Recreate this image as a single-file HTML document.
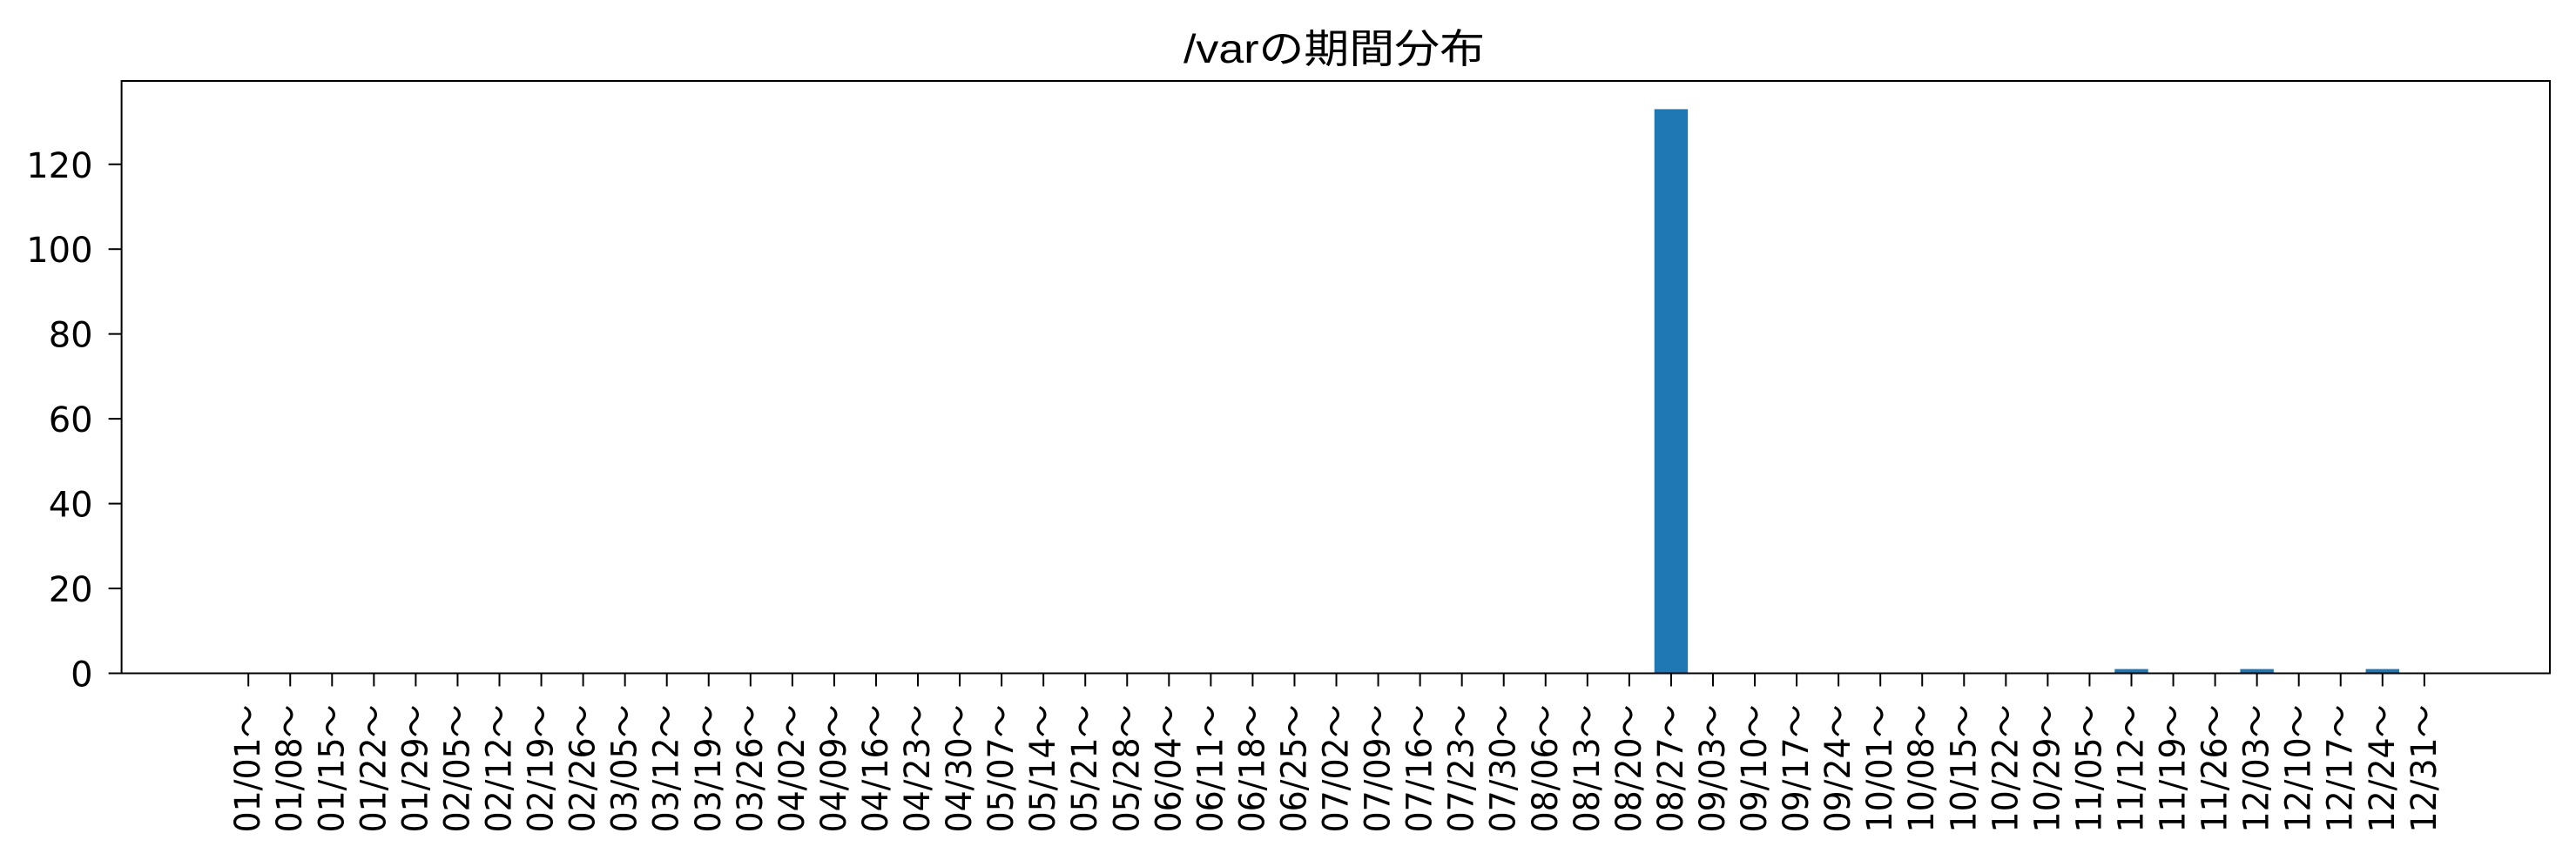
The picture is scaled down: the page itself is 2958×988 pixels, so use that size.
<!DOCTYPE html>
<html><head><meta charset="utf-8"><style>html,body{margin:0;padding:0;background:#fff;}svg{display:block}</style></head>
<body>
<svg id="chart" width="2958" height="988" xmlns="http://www.w3.org/2000/svg" font-family="'DejaVu Sans','Noto Sans CJK JP',sans-serif">
<rect x="0" y="0" width="2958" height="988" fill="#fff"/>
<text x="1532" y="72" font-size="46" text-anchor="middle" textLength="346" lengthAdjust="spacingAndGlyphs" font-family="'Liberation Sans','Noto Sans CJK JP',sans-serif">/varの期間分布</text>
<g id="plot"></g>
</svg>
<script>
const categories = ["01/01","01/08","01/15","01/22","01/29","02/05","02/12","02/19","02/26","03/05","03/12","03/19","03/26","04/02","04/09","04/16","04/23","04/30","05/07","05/14","05/21","05/28","06/04","06/11","06/18","06/25","07/02","07/09","07/16","07/23","07/30","08/06","08/13","08/20","08/27","09/03","09/10","09/17","09/24","10/01","10/08","10/15","10/22","10/29","11/05","11/12","11/19","11/26","12/03","12/10","12/17","12/24","12/31"];
const counts = [0,0,0,0,0,0,0,0,0,0,0,0,0,0,0,0,0,0,0,0,0,0,0,0,0,0,0,0,0,0,0,0,0,0,133,0,0,0,0,0,0,0,0,0,0,1,0,0,1,0,0,1,0];
const yTicks = [0,20,40,60,80,100,120];

const NS = "http://www.w3.org/2000/svg";
const L = 139.6, R = 2928, T = 93, B = 773.5;
const n = categories.length;
const xMin = -3.03, xMax = (n - 1) + 3.0;
const yMax = Math.max(...counts) * 1.05;
const xs = i => L + (i - xMin) / (xMax - xMin) * (R - L);
const ys = v => B - v / yMax * (B - T);
const g = document.getElementById('plot');
function mk(tag, attrs) { const e = document.createElementNS(NS, tag); for (const k in attrs) e.setAttribute(k, attrs[k]); g.appendChild(e); return e; }

const bw = 0.8 * (xs(1) - xs(0));
counts.forEach((v, i) => {
  const r = mk('rect', {x: xs(i) - bw / 2, y: ys(v), width: bw, height: B - ys(v), fill: '#1f77b4'});
  
  
});

yTicks.forEach(t => {
  const y = ys(t);
  const tk = mk('line', {x1: L - 15, x2: L, y1: y, y2: y, stroke: '#000', 'stroke-width': 2});
  
  
  const s = String(t);
  const tx = mk('text', {x: L - 33, y: y + 15, 'font-size': 40, 'text-anchor': 'end', fill: '#000'});
  tx.textContent = s;
  
  
});

categories.forEach((c, i) => {
  const x = xs(i);
  const tk = mk('line', {x1: x, x2: x, y1: B, y2: B + 15, stroke: '#000', 'stroke-width': 2});
  
  
  const tx = mk('text', {x: 0, y: 0, 'font-size': 40, 'text-anchor': 'end', fill: '#000',
    transform: `translate(${x + 13},${B + 36}) rotate(-90)`, textLength: 147, lengthAdjust: 'spacingAndGlyphs'});
  tx.textContent = c + '～';
  
  
});

const frame = mk('rect', {x: L, y: T, width: R - L, height: B - T, fill: 'none', stroke: '#000', 'stroke-width': 2});


</script>
</body></html>
